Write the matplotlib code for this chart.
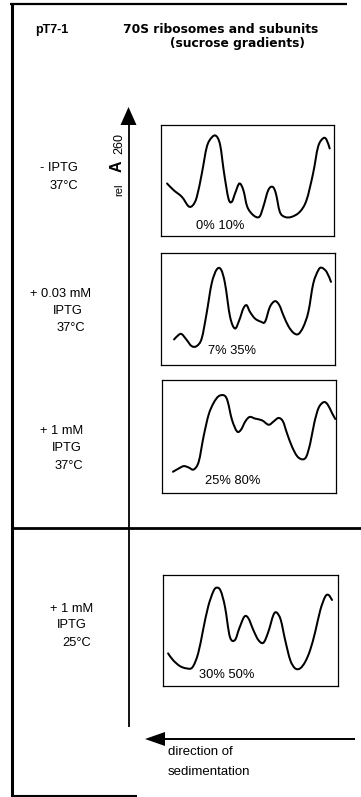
import matplotlib
matplotlib.use("Agg")
import matplotlib.pyplot as plt
from matplotlib.path import Path
from matplotlib.patches import PathPatch

plt.rcParams['font.family'] = ['Liberation Sans', 'DejaVu Sans']

# Gradient profiles: position along the gradient (0 = top, 1 = bottom) and relative A260
pos_1 = [0.035, 0.073, 0.121, 0.159, 0.184, 0.207, 0.236, 0.265, 0.294, 0.319, 0.342,
         0.365, 0.390, 0.409, 0.428, 0.453, 0.476, 0.499, 0.534, 0.568, 0.591, 0.620,
         0.645, 0.664, 0.687, 0.716, 0.754, 0.802, 0.841, 0.879, 0.908, 0.937, 0.956, 0.975]
a260_1 = [0.473, 0.413, 0.352, 0.268, 0.277, 0.352, 0.563, 0.804, 0.889, 0.901, 0.819,
          0.563, 0.337, 0.307, 0.383, 0.473, 0.413, 0.262, 0.187, 0.172, 0.262, 0.413,
          0.443, 0.383, 0.217, 0.172, 0.172, 0.217, 0.322, 0.563, 0.804, 0.880, 0.870, 0.789]

pos_2 = [0.075, 0.100, 0.119, 0.148, 0.176, 0.205, 0.234, 0.262, 0.291, 0.320, 0.345,
         0.368, 0.397, 0.425, 0.450, 0.473, 0.492, 0.511, 0.540, 0.575, 0.598, 0.626,
         0.655, 0.680, 0.703, 0.732, 0.761, 0.789, 0.818, 0.847, 0.875, 0.904, 0.923,
         0.952, 0.977]
a260_2 = [0.228, 0.267, 0.276, 0.223, 0.169, 0.169, 0.237, 0.460, 0.727, 0.852, 0.852,
          0.727, 0.430, 0.326, 0.401, 0.504, 0.534, 0.475, 0.415, 0.386, 0.386, 0.519,
          0.570, 0.534, 0.445, 0.347, 0.288, 0.276, 0.341, 0.475, 0.727, 0.846, 0.869,
          0.831, 0.742]

pos_3 = [0.063, 0.096, 0.125, 0.153, 0.182, 0.211, 0.239, 0.268, 0.297, 0.326, 0.358,
         0.377, 0.402, 0.431, 0.454, 0.479, 0.504, 0.536, 0.575, 0.613, 0.642, 0.670,
         0.695, 0.718, 0.747, 0.776, 0.805, 0.829, 0.852, 0.875, 0.900, 0.929, 0.952,
         0.977, 0.996]
a260_3 = [0.188, 0.217, 0.238, 0.226, 0.208, 0.277, 0.500, 0.693, 0.798, 0.857, 0.863,
          0.813, 0.649, 0.545, 0.560, 0.634, 0.673, 0.658, 0.643, 0.604, 0.634, 0.664,
          0.634, 0.530, 0.411, 0.327, 0.298, 0.321, 0.440, 0.619, 0.753, 0.804, 0.783,
          0.708, 0.655]

pos_4 = [0.029, 0.057, 0.096, 0.134, 0.168, 0.201, 0.229, 0.258, 0.287, 0.306, 0.329,
         0.354, 0.382, 0.411, 0.436, 0.465, 0.488, 0.516, 0.545, 0.574, 0.602, 0.631,
         0.650, 0.673, 0.698, 0.727, 0.755, 0.784, 0.813, 0.841, 0.870, 0.899, 0.927,
         0.946, 0.966]
a260_4 = [0.294, 0.234, 0.180, 0.159, 0.168, 0.294, 0.505, 0.715, 0.850, 0.886, 0.859,
          0.715, 0.444, 0.414, 0.520, 0.625, 0.610, 0.505, 0.414, 0.390, 0.489, 0.640,
          0.661, 0.595, 0.414, 0.234, 0.159, 0.159, 0.219, 0.324, 0.489, 0.685, 0.805,
          0.820, 0.775]

profile_labels = ["0% 10%", "7% 35%", "25% 80%", "30% 50%"]
condition_lines = [["- IPTG", "37°C"],
                   ["+ 0.03 mM", "IPTG", "37°C"],
                   ["+ 1 mM", "IPTG", "37°C"],
                   ["+ 1 mM", "IPTG", "25°C"]]


def smooth_trace(xs, ys):
    """Cubic Bezier path through every point (Catmull-Rom tangents)."""
    pts = list(zip(xs, ys))
    verts = [pts[0]]
    codes = [Path.MOVETO]
    n = len(pts)
    for i in range(n - 1):
        p0 = pts[i - 1] if i > 0 else pts[i]
        p1 = pts[i]
        p2 = pts[i + 1]
        p3 = pts[i + 2] if i + 2 < n else pts[i + 1]
        c1 = (p1[0] + (p2[0] - p0[0]) / 6, p1[1] + (p2[1] - p0[1]) / 6)
        c2 = (p2[0] - (p3[0] - p1[0]) / 6, p2[1] - (p3[1] - p1[1]) / 6)
        verts += [c1, c2, p2]
        codes += [Path.CURVE4] * 3
    return Path(verts, codes)


W, H = 361, 797
fig = plt.figure(figsize=(W / 100, H / 100), dpi=100)
fig.patch.set_facecolor('white')

# Overlay in pixel units for frame, arrows and labels
ov = fig.add_axes([0, 0, 1, 1])
ov.set_xlim(0, W)
ov.set_ylim(H, 0)
ov.axis('off')

k = 'black'
ov.plot([12, 12], [3, 797], color=k, lw=2.2, solid_capstyle='butt')
ov.plot([10, 347], [3.5, 3.5], color=k, lw=1.6, solid_capstyle='butt')
ov.plot([12, 361], [528, 528], color=k, lw=2.0, solid_capstyle='butt')
ov.plot([12, 137], [795.5, 795.5], color=k, lw=1.5, solid_capstyle='butt')

# Vertical rel A260 axis with arrowhead
ov.plot([128.5, 128.5], [124, 727], color=k, lw=1.3, solid_capstyle='butt')
ov.add_patch(plt.Polygon([[128.5, 107], [120.5, 125], [136.5, 125]], closed=True,
                         color=k, lw=0))
# Horizontal direction-of-sedimentation arrow
ov.plot([163, 355], [739, 739], color=k, lw=1.4, solid_capstyle='butt')
ov.add_patch(plt.Polygon([[145, 739], [165, 732], [165, 746]], closed=True,
                         color=k, lw=0))

# Header
ov.text(35, 33, "pT7-1", fontsize=9, fontweight='bold', va='baseline', ha='left')
ov.text(123, 33, "70S ribosomes and subunits", fontsize=8.8, fontweight='bold',
        family='DejaVu Sans', va='baseline', ha='left')
ov.text(170, 47, "(sucrose gradients)", fontsize=8.8, fontweight='bold',
        family='DejaVu Sans', va='baseline', ha='left')

# Axis label (reads bottom to top)
ov.text(122, 190, "rel", fontsize=8, rotation=90, rotation_mode='anchor',
        ha='center', va='baseline')
ov.text(122, 166, "A", fontsize=11.5, fontweight='bold', rotation=90,
        rotation_mode='anchor', ha='center', va='baseline')
ov.text(122, 143.5, "260", fontsize=9, rotation=90, rotation_mode='anchor',
        ha='center', va='baseline')

ov.text(168, 755, "direction of", fontsize=9.5, va='baseline', ha='left')
ov.text(168, 775, "sedimentation", fontsize=9.5, va='baseline', ha='left')

# Condition labels, line by line
cond_x = [[40, 50], [30, 53, 57], [40, 52, 55], [50, 57, 62]]
cond_y = [[171, 189], [297, 314, 331], [434, 451, 469], [612, 628, 646]]
for lines, xs, ys in zip(condition_lines, cond_x, cond_y):
    for t, x, y in zip(lines, xs, ys):
        ov.text(x, y, t, fontsize=9.3, va='baseline', ha='left')

# Profile panels (left, top, right, bottom in pixels)
boxes = [(161, 125, 334, 236), (161, 253, 335, 365), (162, 380, 336, 493),
         (163, 575, 338, 686)]
profiles = [(pos_1, a260_1), (pos_2, a260_2), (pos_3, a260_3), (pos_4, a260_4)]
label_pos = [(0.205, 0.06), (0.27, 0.10), (0.245, 0.08), (0.205, 0.07)]

for (l, t, r, b), (xs, ys), lab, (lx, ly) in zip(boxes, profiles, profile_labels, label_pos):
    ax = fig.add_axes([l / W, 1 - b / H, (r - l) / W, (b - t) / H])
    ax.add_patch(PathPatch(smooth_trace(xs, ys), facecolor='none', edgecolor=k,
                           lw=1.45, joinstyle='round', capstyle='round'))
    ax.set_xlim(0, 1)
    ax.set_ylim(0, 1)
    ax.set_xticks([])
    ax.set_yticks([])
    for s in ax.spines.values():
        s.set_linewidth(0.9)
    ax.text(lx, ly, lab, transform=ax.transAxes, fontsize=9.3, ha='left', va='baseline')

fig.savefig("out.png", dpi=100, facecolor='white')
